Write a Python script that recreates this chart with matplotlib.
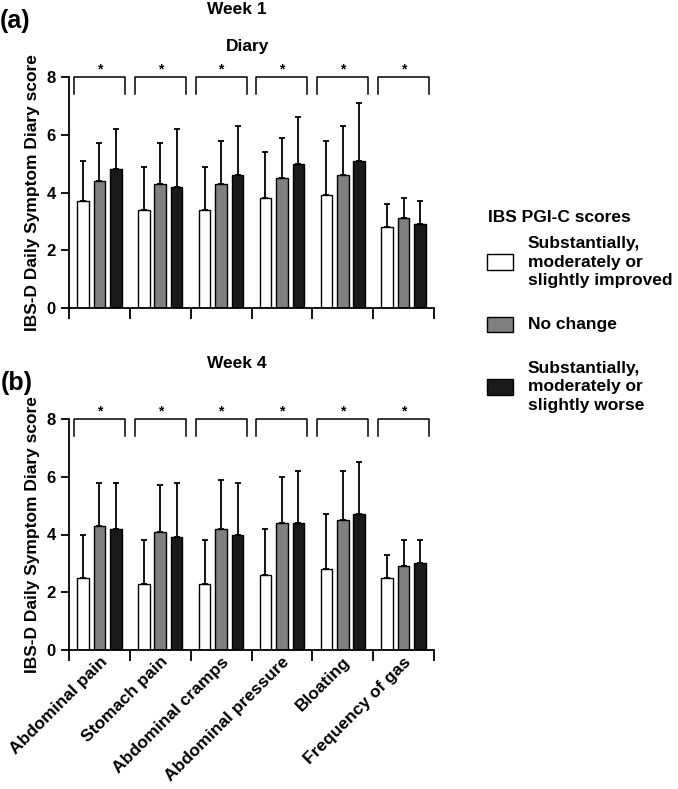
import matplotlib
matplotlib.use("Agg")
import matplotlib.pyplot as plt
from matplotlib.patches import Rectangle
import numpy as np

plt.rcParams['font.family'] = ['Liberation Sans', 'DejaVu Sans']
plt.rcParams['font.weight'] = 'bold'

symptoms = ["Abdominal pain", "Stomach pain", "Abdominal cramps",
            "Abdominal pressure", "Bloating", "Frequency of gas"]
groups = ["Substantially,\nmoderately or\nslightly improved", "No change",
          "Substantially,\nmoderately or\nslightly worse"]
colors = ["white", "#808080", "#1a1a1a"]

# week 1 means and upper error bar tops (mean + SD)
week1_mean = [
    [3.7, 3.4, 3.4, 3.8, 3.9, 2.8],
    [4.4, 4.3, 4.3, 4.5, 4.6, 3.1],
    [4.8, 4.2, 4.6, 5.0, 5.1, 2.9],
]
week1_top = [
    [5.1, 4.9, 4.9, 5.4, 5.8, 3.6],
    [5.7, 5.7, 5.8, 5.9, 6.3, 3.8],
    [6.2, 6.2, 6.3, 6.6, 7.1, 3.7],
]
week4_mean = [
    [2.5, 2.3, 2.3, 2.6, 2.8, 2.5],
    [4.3, 4.1, 4.2, 4.4, 4.5, 2.9],
    [4.2, 3.9, 4.0, 4.4, 4.7, 3.0],
]
week4_top = [
    [4.0, 3.8, 3.8, 4.2, 4.7, 3.3],
    [5.8, 5.7, 5.9, 6.0, 6.2, 3.8],
    [5.8, 5.8, 5.8, 6.2, 6.5, 3.8],
]

W, H = 678, 789
fig = plt.figure(figsize=(W / 100, H / 100), dpi=100)


def panel(rect, means, tops, show_labels):
    ax = fig.add_axes(rect)
    x = np.arange(len(symptoms)) + 0.5
    offsets = [-0.27, 0.0, 0.27]
    for g in range(3):
        m = np.array(means[g])
        err = np.array(tops[g]) - m
        ax.bar(x + offsets[g], m, width=0.19, color=colors[g], edgecolor='black',
               linewidth=1.0, zorder=2)
        ax.errorbar(x + offsets[g], m, yerr=[np.zeros_like(err), err], fmt='none',
                    ecolor='black', elinewidth=1.3, capsize=2.2, capthick=1.3, zorder=1)
    # significance brackets
    for xi in x:
        x0, x1 = xi - 0.42, xi + 0.42
        ax.plot([x0, x0, x1, x1], [7.4, 8.0, 8.0, 7.4], color='black', lw=1.1,
                clip_on=False)
        ax.text(xi, 8.02, "*", ha='center', va='bottom', fontsize=10, clip_on=False)
    ax.set_xlim(0, 6)
    ax.set_ylim(0, 8)
    ax.set_yticks([0, 2, 4, 6, 8])
    ax.set_xticks(np.arange(7))
    ax.set_xticklabels([])
    ax.set_xticks(x, minor=True)
    ax.tick_params(axis='x', which='major', length=8, width=1.3)
    ax.tick_params(axis='x', which='minor', length=0, pad=3)
    ax.tick_params(axis='y', length=6, width=1.3, labelsize=12)
    if show_labels:
        ax.set_xticklabels(symptoms, minor=True, rotation=45, ha='right',
                           rotation_mode='anchor', fontsize=12.5, fontweight='bold')
    for lbl in ax.get_yticklabels():
        lbl.set_fontweight('bold')
    for s in ['top', 'right']:
        ax.spines[s].set_visible(False)
    for s in ['left', 'bottom']:
        ax.spines[s].set_linewidth(1.3)
    ax.set_ylabel("IBS-D Daily Symptom Diary score", fontsize=12.5,
                  fontweight='bold', labelpad=5)
    return ax


def fx(px):
    return px / W


def fy(py):
    return 1 - py / H


panel([fx(69), fy(308), fx(434 - 69), (308 - 77) / H], week1_mean, week1_top, False)
panel([fx(69), fy(650), fx(434 - 69), (650 - 419) / H], week4_mean, week4_top, True)

fig.text(fx(0), fy(21), "(a)", fontsize=18, fontweight='bold', va='center')
fig.text(fx(1), fy(383), "(b)", fontsize=18, fontweight='bold', va='center')
fig.text(fx(237), fy(10), "Week 1", fontsize=12.5, fontweight='bold', ha='center', va='center')
fig.text(fx(248), fy(46), "Diary", fontsize=12.5, fontweight='bold', ha='center', va='center')
fig.text(fx(237), fy(363), "Week 4", fontsize=12.5, fontweight='bold', ha='center', va='center')

# legend drawn by hand
fig.text(fx(488), fy(217), "IBS PGI-C scores", fontsize=12.5, fontweight='bold',
         va='center')
leg_y = [262, 325, 387]
for g in range(3):
    fig.add_artist(Rectangle((fx(487), fy(leg_y[g] + 7.5)), fx(26), 15 / H,
                             transform=fig.transFigure, facecolor=colors[g],
                             edgecolor='black', linewidth=1.0))
    fig.text(fx(528), fy(leg_y[g]), groups[g], fontsize=12.5, fontweight='bold',
             va='center', linespacing=1.3)

fig.savefig("out.png", dpi=100)
